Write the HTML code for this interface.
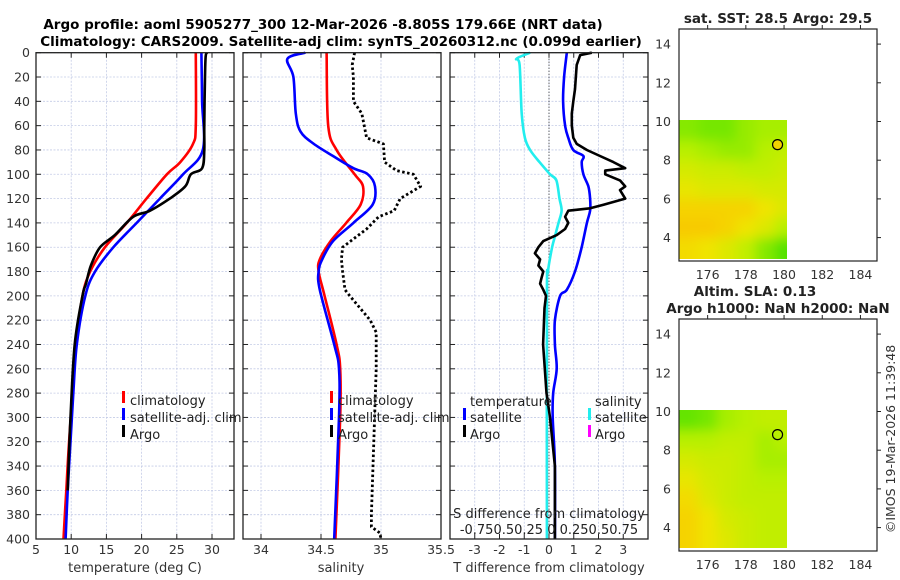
<!DOCTYPE html>
<html><head><meta charset="utf-8">
<style>
html,body{margin:0;padding:0;background:#fff;}
svg{display:block;font-family:"DejaVu Sans","Liberation Sans",sans-serif;}
</style></head>
<body>
<svg id="chart" width="900" height="580" viewBox="0 0 900 580" xmlns="http://www.w3.org/2000/svg">
<defs>
<filter id="blur" x="0" y="0" width="1" height="1"><feGaussianBlur stdDeviation="6"/></filter>
<clipPath id="clipTop"><rect x="679" y="120" width="108" height="139"/></clipPath>
<clipPath id="clipBot"><rect x="679" y="410" width="108" height="138"/></clipPath>
</defs>
<text x="323" y="29" text-anchor="middle" font-size="13.5" font-weight="bold">Argo profile: aoml 5905277_300 12-Mar-2026 -8.805S 179.66E (NRT data)</text>
<text x="341" y="46" text-anchor="middle" font-size="13.5" font-weight="bold">Climatology: CARS2009. Satellite-adj clim: synTS_20260312.nc (0.099d earlier)</text>
<g id="g"></g>
</svg>
<script>
// ---- data ----
const depthTicks=[0,20,40,60,80,100,120,140,160,180,200,220,240,260,280,300,320,340,360,380,400];
const tempTicks=[5,10,15,20,25,30];
const salTicks=[34,34.5,35,35.5];
const tdiffTicks=[-3,-2,-1,0,1,2,3];
const lonTicks=[176,178,180,182,184];
const latTicks=[4,6,8,10,12,14];

const tClimDepth=[0,60,75,90,100,120,140,160,180,200,240,280,320,360,400];
const tClimVal=[27.7,27.7,27.3,25.5,23.6,20.7,17.9,14.8,12.7,11.6,10.7,10.2,9.7,9.3,8.9];
const tSatDepth=[0,40,80,100,120,140,160,180,200,240,280,320,360,400];
const tSatVal=[28.5,28.6,28.7,25.9,22.6,19.3,16.0,13.4,12.0,10.8,10.3,9.9,9.5,9.2];
const tArgoDepth=[0,3,20,60,80,95,100,110,120,130,135,150,160,175,190,200,240,300,360];
const tArgoVal=[29.3,29.1,29.0,28.9,28.9,28.6,27.0,26.2,24.0,21.2,18.8,16.2,14.1,12.8,12.1,11.6,10.5,9.9,9.5];

const sClimDepth=[0,60,80,100,110,125,140,155,170,180,200,240,260,300,400];
const sClimVal=[34.547,34.56,34.63,34.78,34.85,34.83,34.71,34.58,34.49,34.48,34.53,34.63,34.66,34.66,34.62];
const sSatDepth=[0,5,20,50,65,75,85,95,100,110,125,140,155,170,180,195,240,260,300,400];
const sSatVal=[34.37,34.22,34.27,34.29,34.33,34.44,34.6,34.77,34.89,34.95,34.93,34.77,34.6,34.51,34.48,34.49,34.61,34.65,34.65,34.61];
const sArgoDepth=[0,10,20,40,50,70,75,90,97,100,110,120,130,135,145,160,170,180,195,200,220,230,260,380,390,395,400];
const sArgoVal=[34.78,34.76,34.77,34.77,34.84,34.88,35.02,35.03,35.13,35.27,35.33,35.16,35.11,34.98,34.88,34.68,34.67,34.68,34.7,34.74,34.91,34.96,34.96,34.92,34.92,34.99,35.0];

const dSatDepth=[0,20,40,60,70,80,85,90,100,110,120,130,140,160,180,195,200,220,240,260,280,300,340,400];
const dSatVal=[0.72,0.61,0.57,0.65,0.78,0.98,1.39,1.32,1.39,1.59,1.66,1.66,1.53,1.32,1.05,0.72,0.45,0.24,0.24,0.31,0.17,0.15,0.24,0.24];
const dArgoDepth=[0,2,10,30,40,50,60,70,75,80,85,90,95,97,100,105,110,113,120,125,128,130,135,140,145,150,155,160,165,170,175,180,185,190,195,200,210,240,280,300,340,400];
const dArgoVal=[1.73,1.26,1.12,1.05,0.98,0.92,0.92,0.98,1.12,1.53,2.06,2.6,3.08,2.27,2.27,2.87,3.08,2.87,3.08,2.2,1.66,0.78,0.65,0.78,0.65,0.31,-0.23,-0.43,-0.57,-0.36,-0.43,-0.23,-0.3,-0.36,-0.23,-0.12,-0.18,-0.24,-0.1,0.04,0.24,0.24];
const dSalDepth=[0,5,10,50,70,80,90,100,105,120,130,140,150,160,180,200,400];
const dSalVal=[-0.18,-0.31,-0.28,-0.26,-0.23,-0.18,-0.09,0.01,0.07,0.10,0.12,0.09,0.06,0.03,-0.01,-0.02,-0.02];

const mapLats=[9.5,8.5,7.5,6.5,5.5,4.5,3.5];
const mapLons=[175,176,177,178,179,180];
const sstGrid=[
[0.25,0.2,0.2,0.3,0.35,0.35],
[0.4,0.35,0.3,0.3,0.4,0.45],
[0.55,0.5,0.5,0.45,0.45,0.5],
[0.65,0.6,0.6,0.6,0.55,0.55],
[0.8,0.8,0.8,0.8,0.7,0.6],
[0.85,0.85,0.8,0.7,0.6,0.4],
[0.75,0.7,0.6,0.45,0.25,0.1]];
const slaGrid=[
[0.15,0.2,0.35,0.4,0.45,0.45],
[0.4,0.4,0.45,0.45,0.35,0.4],
[0.55,0.5,0.5,0.45,0.35,0.35],
[0.65,0.55,0.5,0.45,0.4,0.4],
[0.75,0.6,0.5,0.45,0.45,0.45],
[0.8,0.7,0.55,0.5,0.45,0.45],
[0.8,0.7,0.6,0.5,0.45,0.45]];
const argoLon=179.66, argoLat=8.805;

// ---- drawing ----
const NS='http://www.w3.org/2000/svg';
const G=document.getElementById('g');
function mk(tag,attrs,parent){const e=document.createElementNS(NS,tag);for(const k in attrs)e.setAttribute(k,attrs[k]);(parent||G).appendChild(e);return e;}
const PT=52.7,PB=539;
const yD=d=>PT+(PB-PT)*d/400;
const xT=v=>36+(v-5)*7.04;
const xS=v=>261+(v-34)*120;
const xD=v=>549+v*24.75;
const xSD=v=>549+v*105;

function panel(x0,name,xticks,xf,labels){
  const g=mk('g',{});
  
  
  xticks.forEach(t=>{const l=mk('line',{x1:xf(t),x2:xf(t),y1:PT,y2:PB,stroke:'#c4cbe6','stroke-width':0.8,'stroke-dasharray':'2,1.5'},g);
    });
  depthTicks.forEach(d=>{const l=mk('line',{x1:x0,x2:x0+198,y1:yD(d),y2:yD(d),stroke:'#c4cbe6','stroke-width':0.8,'stroke-dasharray':'2,1.5'},g);
    
    mk('line',{x1:x0,x2:x0+5,y1:yD(d),y2:yD(d),stroke:'#222'},g);
    mk('line',{x1:x0+193,x2:x0+198,y1:yD(d),y2:yD(d),stroke:'#222'},g);});
  xticks.forEach(t=>{mk('line',{x1:xf(t),x2:xf(t),y1:PB,y2:PB-5,stroke:'#222'},g);mk('line',{x1:xf(t),x2:xf(t),y1:PT,y2:PT+5,stroke:'#222'},g);
    if(labels){const tx=mk('text',{x:xf(t),y:554,'text-anchor':'middle','font-size':12.5,fill:'#333'},g);tx.textContent=String(t);
    }});
  return g;
}
function frame(x0,name){const r=mk('rect',{x:x0,y:PT,width:198,height:PB-PT,fill:'none',stroke:'#222','stroke-width':1.3});
  }
function line(dep,val,xf,color,name,w,dash,smooth){
  const P=dep.map((d,i)=>[xf(val[i]),yD(d)]);
  let p='M'+P[0][0].toFixed(1)+','+P[0][1].toFixed(1);
  for(let i=1;i<P.length;i++){
    if(smooth){const p0=P[Math.max(0,i-2)],p1=P[i-1],p2=P[i],p3=P[Math.min(P.length-1,i+1)];
      const c1=[p1[0]+(p2[0]-p0[0])/6,p1[1]+(p2[1]-p0[1])/6],c2=[p2[0]-(p3[0]-p1[0])/6,p2[1]-(p3[1]-p1[1])/6];
      p+='C'+c1.map(v=>v.toFixed(1)).join(',')+' '+c2.map(v=>v.toFixed(1)).join(',')+' '+p2[0].toFixed(1)+','+p2[1].toFixed(1);}
    else p+='L'+P[i][0].toFixed(1)+','+P[i][1].toFixed(1);
  }
  const e=mk('path',{d:p,fill:'none',stroke:color,'stroke-width':w||2.6,'stroke-linejoin':'round'});
  if(dash)e.setAttribute('stroke-dasharray',dash);
  }
function txt(x,y,s,name,attrs){const t=mk('text',Object.assign({x:x,y:y,'font-size':13,fill:'#222'},attrs||{}));t.textContent=s;
  return t;}
function legMark(x,y,c){const r=mk('rect',{x:x,y:y-10,width:3,height:12,fill:c});}

// panel 1 temperature
panel(36,'temperature-panel',tempTicks,xT,true);
depthTicks.forEach(d=>{const t=txt(30,yD(d)+4.5,String(d),'y-tick-label',{'text-anchor':'end','font-size':12.5,fill:'#333'});});
line(tClimDepth,tClimVal,xT,'#ff0000','temp-climatology-line',2.6,null,true);
line(tSatDepth,tSatVal,xT,'#0000ff','temp-satellite-line',2.6,null,true);
line(tArgoDepth,tArgoVal,xT,'#000000','temp-argo-line',2.6,null,true);
frame(36,'temperature-axes');
txt(135,572,'temperature (deg C)','x-axis-title-temperature',{'text-anchor':'middle',fill:'#333'});
legMark(122,401,'#ff0000');txt(130,405,'climatology','legend-climatology');
legMark(122,418,'#0000ff');txt(130,422,'satellite-adj. clim','legend-satellite-adj');
legMark(122,435,'#000');txt(130,439,'Argo','legend-argo');

// panel 2 salinity
panel(243,'salinity-panel',salTicks,xS,true);
line(sClimDepth,sClimVal,xS,'#ff0000','sal-climatology-line',2.6,null,true);
line(sSatDepth,sSatVal,xS,'#0000ff','sal-satellite-line',2.6,null,true);
line(sArgoDepth,sArgoVal,xS,'#000000','sal-argo-line',2.8,'2.5,2.5');
frame(243,'salinity-axes');
txt(341,572,'salinity','x-axis-title-salinity',{'text-anchor':'middle',fill:'#333'});
legMark(330,401,'#ff0000');txt(338,405,'climatology','legend-climatology');
legMark(330,418,'#0000ff');txt(338,422,'satellite-adj. clim','legend-satellite-adj');
legMark(330,435,'#000');txt(338,439,'Argo','legend-argo');

// panel 3 differences
const p3=panel(450,'difference-panel',tdiffTicks,xD,true);
const z=mk('line',{x1:xD(0),x2:xD(0),y1:PT,y2:PB,stroke:'#333','stroke-width':1,'stroke-dasharray':'1,2'});

line(dSalDepth,dSalVal,xSD,'#22eeee','sal-diff-satellite-line',2.6,null,true);
line(dSatDepth,dSatVal,xD,'#0000ff','temp-diff-satellite-line',2.6,null,true);
line(dArgoDepth,dArgoVal,xD,'#000000','temp-diff-argo-line');
frame(450,'difference-axes');
txt(549,572,'T difference from climatology','x-axis-title-tdiff',{'text-anchor':'middle',fill:'#333'});
txt(549,518,'S difference from climatology','s-axis-title',{'text-anchor':'middle',fill:'#222'});
txt(549,534,'-0.750.50.25 0 0.250.50.75','s-axis-tick-labels',{'text-anchor':'middle',fill:'#222'});
txt(470,406,'temperature','legend-title-temperature');
txt(595,406,'salinity','legend-title-salinity');
legMark(463,418,'#0000ff');txt(470,422,'satellite','legend-temp-satellite');
legMark(463,435,'#000');txt(470,439,'Argo','legend-temp-argo');
legMark(588,418,'#22eeee');txt(595,422,'satellite','legend-sal-satellite');
legMark(588,435,'#ff00ff');txt(595,439,'Argo','legend-sal-argo');

// maps
function colormap(v){
  const stops=[[0,[51,221,0]],[0.4,[184,240,0]],[0.7,[240,228,0]],[1,[255,176,0]]];
  for(let i=1;i<stops.length;i++){if(v<=stops[i][0]){const a=stops[i-1],b=stops[i],t=(v-a[0])/(b[0]-a[0]);
    return 'rgb('+a[1].map((c,k)=>Math.round(c+(b[1][k]-c)*t)).join(',')+')';}}
  return 'rgb(255,176,0)';
}
function mapPanel(top,name,grid,clip,filled){
  const X=lon=>679+(lon-174.5)*19.1;
  const Y=lat=>top+(14.78-lat)*19.35;
  const g=mk('g',{});
  
  const hm=mk('g',{'clip-path':'url(#'+clip+')'},g);
  const inner=mk('g',{filter:'url(#blur)'},hm);
  grid.forEach((row,r)=>row.forEach((v,c)=>{
    const cell=mk('rect',{x:X(mapLons[c]-0.5)-(c==0?15:0),y:Y(mapLats[r]+0.5)-(r==0?15:0),width:19.1+(c==0||c==row.length-1?15:0)+1,height:19.35+(r==0||r==grid.length-1?15:0)+1,fill:colormap(v)},inner);
    }));
  const fr=mk('rect',{x:679,y:top,width:198,height:232,fill:'none',stroke:'#222','stroke-width':1.2},g);
  
  lonTicks.forEach(l=>{mk('line',{x1:X(l),x2:X(l),y1:top,y2:top-4,stroke:'#222'},g);
    const t=txt(X(l),top+250,String(l),'lon-tick-label',{'text-anchor':'middle','font-size':12.5,fill:'#333'});});
  latTicks.forEach(l=>{mk('line',{x1:877,x2:881,y1:Y(l),y2:Y(l),stroke:'#222'},g);
    txt(671,Y(l)+4.5,String(l),'lat-tick-label',{'text-anchor':'end','font-size':12.5,fill:'#333'});});
  const c=mk('circle',{cx:X(argoLon),cy:Y(argoLat),r:5,fill:filled?'#f2d200':'none',stroke:'#000','stroke-width':1.2},g);
  
}
mapPanel(29,'sst-map',sstGrid,'clipTop',true);
mapPanel(319,'sla-map',slaGrid,'clipBot',false);
txt(778,23,'sat. SST: 28.5 Argo: 29.5','sst-map-title',{'text-anchor':'middle','font-weight':'bold','font-size':13.5});
txt(755,296,'Altim. SLA: 0.13','sla-title',{'text-anchor':'middle','font-weight':'bold','font-size':13.5});
txt(778,313,'Argo h1000: NaN h2000: NaN','sla-map-title',{'text-anchor':'middle','font-weight':'bold','font-size':13.5});
txt(0,0,'©IMOS 19-Mar-2026 11:39:48','copyright-label',{'text-anchor':'middle','font-size':12.5,fill:'#333',transform:'translate(895,439) rotate(-90)'});
</script>
</body></html>
